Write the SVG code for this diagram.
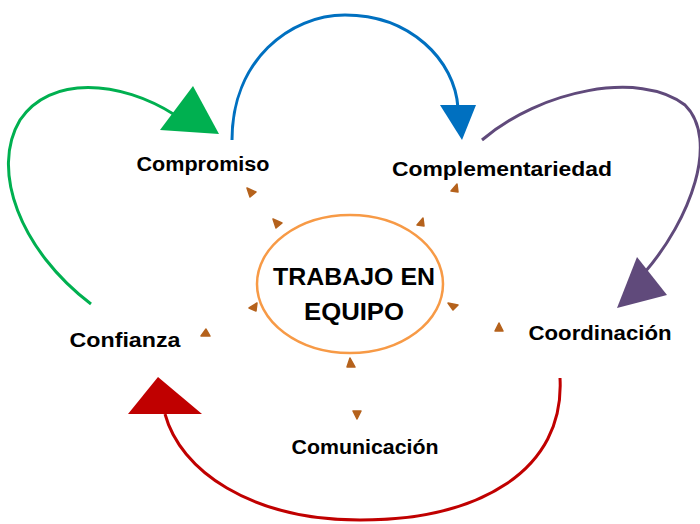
<svg xmlns="http://www.w3.org/2000/svg" width="700" height="524" viewBox="0 0 700 524">
<style>
.lbl{font-family:"Comic Sans MS","Liberation Sans",sans-serif;font-weight:bold;font-size:20px;fill:#000;text-anchor:middle}
.ctr{font-family:"Comic Sans MS","Liberation Sans",sans-serif;font-weight:bold;font-size:24px;fill:#000;text-anchor:middle}
.arc{fill:none;stroke-width:3}
.mk{fill:#b5621c;stroke:#b5621c;stroke-width:1.5;stroke-linejoin:round}
</style>
<rect width="700" height="524" fill="#fff"/>
<g id="connectors">
<path class="arc" stroke="#00b050" d="M91,304 C20,250 -10,170 20,120 C50,75 120,80 175,115"/>
<polygon fill="#00b050" points="193,86 160,130 219,134"/>
<path class="arc" stroke="#0070c0" d="M232,140 C232,60 290,15 345,15 C410,15 455,60 458,108"/>
<polygon fill="#0070c0" points="440,105 476,105 462,140"/>
<path class="arc" stroke="#604a7b" d="M482,140 C540,90 640,70 685,105 C720,140 690,220 645,272"/>
<polygon fill="#604a7b" points="637,257 617,308 667,295"/>
<path class="arc" stroke="#c00000" d="M560,378 C565,470 480,520 360,520 C250,520 180,470 165,414"/>
<polygon fill="#c00000" points="158,377 128,414 202,414"/>
</g>
<g id="markers">
<polygon class="mk" points="247,188 256,192 250,197"/>
<polygon class="mk" points="273,219 282,223 276,228"/>
<polygon class="mk" points="457,184 458,192 451,191"/>
<polygon class="mk" points="423,218 424,226 417,225"/>
<polygon class="mk" points="448,303 458,305 453,310"/>
<polygon class="mk" points="499,323 503,331 495,331"/>
<polygon class="mk" points="257,303 256,311 249,308"/>
<polygon class="mk" points="206,329 210,336 201,336"/>
<polygon class="mk" points="350,358 355,367 347,367"/>
<polygon class="mk" points="353,411 361,411 357,419"/>
</g>
<g id="center">
<ellipse cx="350" cy="284" rx="93" ry="69" fill="none" stroke="#f79a46" stroke-width="2.5"/>
<text class="ctr" x="354" y="285" textLength="162" lengthAdjust="spacingAndGlyphs">TRABAJO EN</text>
<text class="ctr" x="354" y="320" textLength="100" lengthAdjust="spacingAndGlyphs">EQUIPO</text>
</g>
<g id="compromiso"><text class="lbl" x="203" y="171" textLength="133" lengthAdjust="spacingAndGlyphs">Compromiso</text></g>
<g id="complementariedad"><text class="lbl" x="502" y="176" textLength="220" lengthAdjust="spacingAndGlyphs">Complementariedad</text></g>
<g id="coordinacion"><text class="lbl" x="600" y="340" textLength="143" lengthAdjust="spacingAndGlyphs">Coordinación</text></g>
<g id="confianza"><text class="lbl" x="125" y="347" textLength="111" lengthAdjust="spacingAndGlyphs">Confianza</text></g>
<g id="comunicacion"><text class="lbl" x="365" y="454" textLength="147" lengthAdjust="spacingAndGlyphs">Comunicación</text></g>
</svg>
